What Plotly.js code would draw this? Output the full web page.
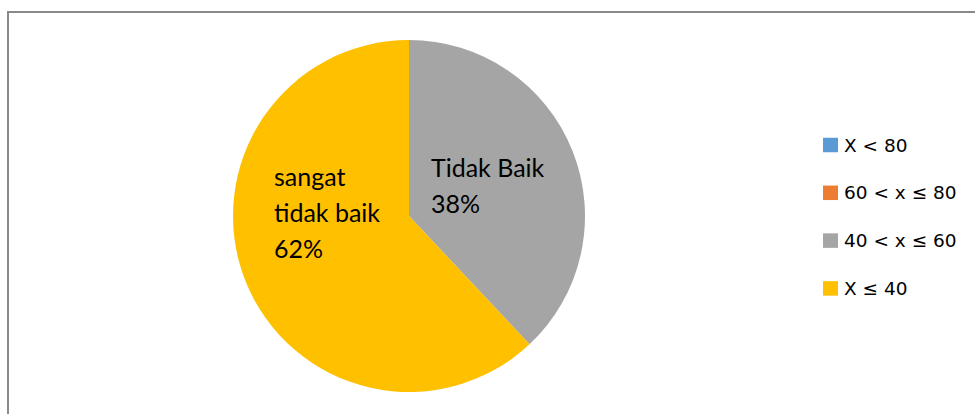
<!DOCTYPE html>
<html>
<head>
<meta charset="utf-8">
<script src="https://cdn.plot.ly/plotly-3.0.1.min.js"></script>
<style>html,body{margin:0;padding:0;background:#fff;}#chart{width:975px;height:414px;}</style>
</head>
<body>
<div id="chart"></div>
<script>
// Data
var categories = ["X < 80", "60 < x \u2264 80", "40 < x \u2264 60", "X \u2264 40"];
var values = [0, 0, 38, 62];
var sliceNames = ["", "", "Tidak Baik", "sangat tidak baik"];
var sliceNameLines = [[], [], ["Tidak Baik"], ["sangat", "tidak baik"]];
var colors = ["#5B9BD5", "#ED7D31", "#A5A5A5", "#FFC000"];

var W = 975, H = 414;
var FONT = "Lato, 'Open Sans', sans-serif";
var LEGFONT = "'DejaVu Sans', sans-serif";
function px2x(p) { return p / W; }
function px2y(p) { return 1 - p / H; }

// pie geometry (layout)
var cx = 409, cy = 216, r = 176;

var total = values.reduce(function (a, b) { return a + b; }, 0);

var annotations = [];
var shapes = [];

// slice data labels (name lines + percentage)
var labelPos = { 2: { x: 429, y: 167 }, 3: { x: 272, y: 176 } };
var lineGap = 36;
values.forEach(function (v, i) {
  if (!v || !labelPos[i]) return;
  var lines = sliceNameLines[i].concat([Math.round(v / total * 100) + "%"]);
  lines.forEach(function (t, k) {
    annotations.push({
      text: t, xref: "paper", yref: "paper",
      x: px2x(labelPos[i].x), y: px2y(labelPos[i].y + k * lineGap),
      xanchor: "left", yanchor: "middle", showarrow: false,
      font: { family: FONT, size: 25, color: "#000" }
    });
  });
});

// legend (manual)
var legX = 823, legY0 = 145, legStep = 47.8, sq = 14.5;
categories.forEach(function (c, i) {
  var y = legY0 + i * legStep;
  shapes.push({
    type: "rect", xref: "paper", yref: "paper",
    x0: px2x(legX), x1: px2x(legX + 15),
    y0: px2y(y - sq / 2), y1: px2y(y + sq / 2),
    fillcolor: colors[i], line: { width: 0 }
  });
  annotations.push({
    text: c, xref: "paper", yref: "paper",
    x: px2x(842), y: px2y(y),
    xanchor: "left", yanchor: "middle", showarrow: false,
    font: { family: LEGFONT, size: 18.5, color: "#000" }
  });
});

// chart frame (top and left)
shapes.push({ type: "line", xref: "paper", yref: "paper", x0: px2x(7), x1: px2x(975), y0: px2y(12), y1: px2y(12), line: { color: "#898989", width: 2 } });
shapes.push({ type: "line", xref: "paper", yref: "paper", x0: px2x(8), x1: px2x(8), y0: px2y(11), y1: px2y(414), line: { color: "#898989", width: 2 } });

var trace = {
  type: "pie",
  labels: categories,
  values: values,
  text: sliceNames,
  sort: false,
  direction: "clockwise",
  rotation: 0,
  marker: { colors: colors, line: { width: 0 } },
  textinfo: "none",
  hoverinfo: "label+percent",
  showlegend: false,
  domain: { x: [px2x(cx - r), px2x(cx + r)], y: [px2y(cy + r), px2y(cy - r)] }
};

var layout = {
  width: W, height: H,
  margin: { l: 0, r: 0, t: 0, b: 0, pad: 0 },
  paper_bgcolor: "#fff",
  showlegend: false,
  shapes: shapes,
  annotations: annotations
};

Plotly.newPlot("chart", [trace], layout, { displayModeBar: false, staticPlot: true });
</script>
</body>
</html>
